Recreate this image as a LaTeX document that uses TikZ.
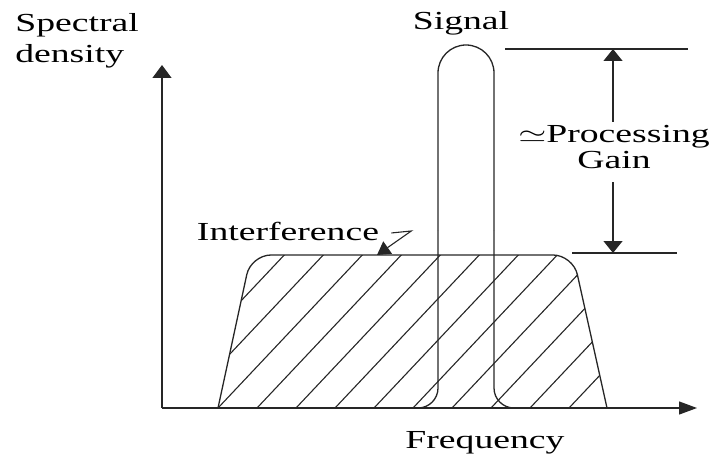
\documentclass[tikz,border=0pt]{standalone}
\usepackage{fontspec}
\setmainfont{Liberation Serif}
\usetikzlibrary{arrows.meta}

\tikzset{
  % picture is laid out in pixels, y running downwards
  plotline/.style={line width=1.3pt, draw=black!85},
  hatchline/.style={line width=1.1pt, draw=black!85},
  vaxis/.style={plotline, -{Triangle[length=13pt,width=19pt]}},
  haxis/.style={plotline, -{Triangle[length=18pt,width=13pt]}},
  dimarrow/.style={plotline, -{Triangle[length=12pt,width=19pt]}},
  leader/.style={line width=1.1pt, draw=black!85, -{Triangle[length=13pt,width=15pt]}},
  lbl/.style={
    font=\fontsize{26}{31}\selectfont,
    inner sep=0pt,
    xscale=1.45,
    transform shape
  }
}

\begin{document}
\begin{tikzpicture}[x=1pt,y=-1pt]
\useasboundingbox (0,0) rectangle (714,457);

% axes
\coordinate (origin) at (162,408);
\coordinate (ytip) at (162,65);
\coordinate (xtip) at (697,408);
\draw[vaxis] (origin) -- (ytip);
\draw[haxis] (origin) -- (xtip);

\node[lbl, anchor=base west, align=left] (ylabel) at (15,63) {Spectral\\density};
\node[lbl, anchor=base] (xlabel) at (485,448) {Frequency};

% interference band, hatched
\begin{scope}
  \clip (0,0) rectangle (714,408);
  \clip[rounded corners=20pt] (213.7,428) -- (251,255) -- (573,255) -- (611.4,428) -- cycle;
  \foreach \k in {-5,...,10}
    \draw[hatchline] ({218+39*\k},408) -- ++(165,-175);
\end{scope}
\draw[plotline, rounded corners=20pt] (218,408) -- (251,255) -- (573,255) -- (607,408);

% narrow-band signal
\draw[plotline, rounded corners=20pt] (408,408) -- (438,408) -- (438,230);
\draw[plotline, rounded corners=28pt] (438,230) -- (438,45) -- (494,45) -- (494,230);
\draw[plotline, rounded corners=20pt] (494,230) -- (494,408) -- (526,408);

\node[lbl, anchor=base] (signal) at (461,30) {Signal};

% interference label
\node[lbl, anchor=base] (interf) at (288,240) {Interference};
\coordinate (itip) at (377,255);
\draw[leader] ([xshift=12pt,yshift=-2pt]interf.east) -- ++(20,-2) -- (itip);

% processing gain dimension
\coordinate (gtop) at (613,49);
\coordinate (gbot) at (613,253);
\draw[plotline] (505,49) -- (688,49);
\draw[plotline] (572,253) -- (677,253);
\node[lbl, anchor=base, align=center, font=\fontsize{26}{25}\selectfont] (gain) at (614,168)
  {$\simeq$Processing\\Gain};
\draw[dimarrow] ([yshift=4pt]gain.north -| gtop) -- (gtop);
\draw[dimarrow] ([yshift=-14pt]gain.south -| gbot) -- (gbot);

\end{tikzpicture}
\end{document}
